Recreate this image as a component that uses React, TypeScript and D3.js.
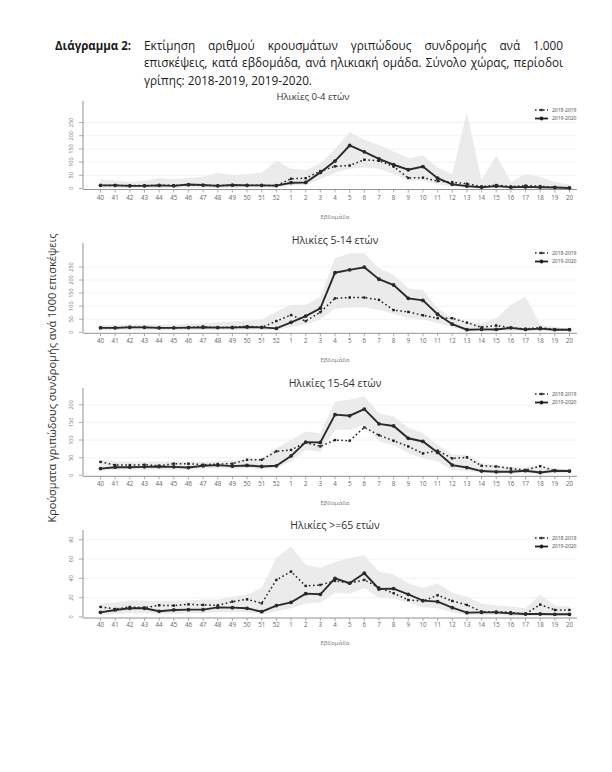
import React, { useEffect, useRef } from "react";
import * as d3 from "d3";

const weeks = ["40","41","42","43","44","45","46","47","48","49","50","51","52","1","2","3","4","5","6","7","8","9","10","11","12","13","14","15","16","17","18","19","20"];
const seasonLabels = ["2018-2019", "2019-2020"];
const panelTitles = ["Ηλικίες 0-4 ετών", "Ηλικίες 5-14 ετών", "Ηλικίες 15-64 ετών", "Ηλικίες >=65 ετών"];
const xAxisLabel = "Εβδομάδα";
const yAxisLabel = "Κρούσματα γριπώδους συνδρομής ανά 1000 επισκέψεις";
const captionLead = "Διάγραμμα 2:";
const captionLines = [
  "Εκτίμηση αριθμού κρουσμάτων γριπώδους συνδρομής ανά 1.000",
  "επισκέψεις, κατά εβδομάδα, ανά ηλικιακή ομάδα. Σύνολο χώρας, περίοδοι",
  "γρίπης: 2018-2019, 2019-2020.",
];

// 0-4
const s19_a = [11,12,11,11,12,12,13,12,11,12,12,12,11,37,39,66,84,87,109,105,83,40,41,28,24,18,7,13,7,11,9,4,2];
const s20_a = [12,12,10,10,12,10,15,13,10,13,12,12,11,22,23,61,104,163,139,112,90,71,83,39,16,9,5,9,5,6,5,4,2];
const up_a = [35,30,25,30,40,35,40,45,60,50,55,60,105,75,70,95,150,215,185,165,140,115,125,80,55,290,30,125,25,55,45,25,15];
const lo_a = [2,2,2,2,2,2,3,3,2,3,3,3,3,10,12,35,60,75,80,75,55,30,30,15,8,3,1,2,1,1,1,0,0];
const ticks_a = [0,50,100,150,200,250];
// 5-14
const s19_b = [17,17,20,19,17,17,18,22,18,20,23,19,43,66,43,77,130,133,133,124,85,78,65,54,54,37,19,26,17,13,18,11,10];
const s20_b = [17,17,19,19,17,17,18,19,18,18,20,19,15,38,62,92,228,239,249,203,181,130,122,69,31,10,11,11,17,11,14,10,10];
const up_b = [28,28,30,30,30,30,32,35,38,41,45,48,79,105,105,136,283,302,302,245,219,168,162,92,54,41,34,54,105,136,28,20,15];
const lo_b = [8,8,8,8,8,8,8,8,8,8,9,9,10,20,30,50,90,95,95,85,70,55,50,35,20,5,5,5,5,5,5,5,5];
const ticks_b = [0,50,100,150,200,250];
// 15-64
const s19_c = [38,29,29,30,27,33,33,30,32,33,44,44,68,72,93,82,100,98,136,114,98,82,62,70,48,51,27,25,19,15,26,13,12];
const s20_c = [19,23,23,24,25,24,22,27,29,26,28,25,27,55,94,93,172,169,188,146,140,105,96,65,29,22,12,10,10,13,8,13,12];
const up_c = [44,39,39,39,39,39,39,39,39,42,48,48,77,100,124,119,209,214,224,176,167,134,119,86,58,58,34,30,25,23,30,20,17];
const lo_c = [14,16,16,16,16,16,16,18,20,18,20,18,20,39,72,67,129,129,143,96,86,63,48,39,15,12,6,5,5,5,4,5,5];
const ticks_c = [0,50,100,150,200];
// >=65
const s19_d = [10.4,8.3,10.4,9.7,12.1,11.8,13.1,12.5,12.1,15.9,18.3,14.2,38.4,47,32.2,33.2,37.4,35,38.4,30.4,24.6,17.6,16.6,22.5,16.6,12.5,5.5,5.5,4.8,3.1,12.8,7.3,7.3];
const s20_d = [4.8,7.3,9,9,5.9,7.3,7.6,7.6,10,9.7,9,5.5,11.8,15.2,24.2,23.5,40,35,45.3,29,29.4,23.5,17,15.9,9.7,4.5,4.8,4.8,3.8,3.1,3.1,2.8,2.8];
const up_d = [14,15,17,17,16,17,17,18,18,21,23,30,61,73,54,51,57,61,64,47,44,35,30,35,25,21,14,12,11,9,23,12,11];
const lo_d = [2,3,4,4,3,3,4,4,5,5,5,3,6,9,14,15,25,24,30,20,19,15,10,9,5,2,2,2,1,1,1,1,1];
const ticks_d = [0,20,40,60,80];

const panelData = [
  { s19: s19_a, s20: s20_a, up: up_a, lo: lo_a, ticks: ticks_a, yMax: 324 },
  { s19: s19_b, s20: s20_b, up: up_b, lo: lo_b, ticks: ticks_b, yMax: 334 },
  { s19: s19_c, s20: s20_c, up: up_c, lo: lo_c, ticks: ticks_c, yMax: 242 },
  { s19: s19_d, s20: s20_d, up: up_d, lo: lo_d, ticks: ticks_d, yMax: 88 },
];

const layouts = [
  { top: 103, y0: 188.5, titleX: 313, titleY: 99.5, titleSize: 9.5, tickY: 200, xlabY: 219, legY: 110 },
  { top: 245, y0: 332.3, titleX: 335, titleY: 243.5, titleSize: 10.5, tickY: 342.5, xlabY: 362, legY: 253 },
  { top: 390, y0: 475.3, titleX: 335, titleY: 386.5, titleSize: 10.5, tickY: 485.5, xlabY: 505, legY: 394 },
  { top: 532, y0: 617, titleX: 335, titleY: 528.5, titleSize: 10.5, tickY: 626.5, xlabY: 645, legY: 538 },
];

const FONT = "'Open Sans', 'Noto Sans', sans-serif";

export default function App() {
  const ref = useRef<SVGSVGElement | null>(null);

  useEffect(() => {
    const svg = d3.select(ref.current);
    svg.selectAll("*").remove();
    svg.append("rect").attr("width", 612).attr("height", 772).attr("fill", "#fff");

    // caption
    const cap = svg.append("g").attr("font-family", FONT).attr("fill", "#1a1a1a");
    cap.append("text").attr("x", 55).attr("y", 49.5).attr("font-size", 13).attr("font-weight", 700)
      .attr("textLength", 76).attr("lengthAdjust", "spacingAndGlyphs").text(captionLead);
    const left = 144, right = 563;
    const lineYs = [49.5, 67, 84.5];

    // choose a font size such that every justified line fits with a minimal word gap
    const fits = (fs: number) => {
      for (let li = 0; li < captionLines.length - 1; li++) {
        const words = captionLines[li].split(" ");
        const t = cap.append("text").attr("font-size", fs);
        let total = 0;
        words.forEach((w) => {
          t.text(w);
          total += (t.node() as SVGTextElement).getComputedTextLength();
        });
        t.remove();
        if (total + 3.6 * (words.length - 1) > right - left) return false;
      }
      return true;
    };
    let fs = 13.5;
    while (fs > 9 && !fits(fs)) fs -= 0.25;

    captionLines.forEach((line, li) => {
      const words = line.split(" ");
      if (li === captionLines.length - 1) {
        cap.append("text").attr("x", left).attr("y", lineYs[li]).attr("font-size", fs).text(line);
        return;
      }
      const nodes = words.map((w) =>
        cap.append("text").attr("y", lineYs[li]).attr("font-size", fs).text(w)
      );
      const widths = nodes.map((n) => (n.node() as SVGTextElement).getComputedTextLength());
      const total = widths.reduce((a, b) => a + b, 0);
      const gap = (right - left - total) / (words.length - 1);
      let cx = left;
      nodes.forEach((n, i) => {
        n.attr("x", cx);
        cx += widths[i] + gap;
      });
    });

    // global y label
    svg.append("text")
      .attr("transform", "translate(56,378) rotate(-90)")
      .attr("text-anchor", "middle").attr("font-family", FONT).attr("font-size", 11)
      .attr("fill", "#333").text(yAxisLabel);

    const x = d3.scalePoint<string>().domain(weeks).range([100.5, 569.5]);

    panelData.forEach((pd, pi) => {
      const L = layouts[pi];
      const y = d3.scaleLinear().domain([0, pd.yMax]).range([L.y0, L.top]);
      const g = svg.append("g");

      // faint gridlines
      pd.ticks.slice(1).forEach((t) => {
        g.append("line").attr("x1", 84).attr("x2", 576).attr("y1", y(t)).attr("y2", y(t))
          .attr("stroke", "#f3f3f3").attr("stroke-width", 1);
      });

      // band
      const idx = d3.range(weeks.length);
      const area = d3.area<number>()
        .x((i) => x(weeks[i]) as number)
        .y0((i) => y(pd.lo[i]))
        .y1((i) => y(pd.up[i]));
      g.append("path").attr("d", area(idx) as string).attr("fill", "#ebebeb");

      // axes
      g.append("line").attr("x1", 83).attr("x2", 83).attr("y1", L.top - 2).attr("y2", L.y0)
        .attr("stroke", "#777").attr("stroke-width", 0.8);
      g.append("line").attr("x1", 83).attr("x2", 577).attr("y1", L.y0 + 1).attr("y2", L.y0 + 1)
        .attr("stroke", "#777").attr("stroke-width", 0.8);
      pd.ticks.forEach((t) => {
        g.append("line").attr("x1", 79).attr("x2", 83).attr("y1", y(t)).attr("y2", y(t))
          .attr("stroke", "#888").attr("stroke-width", 0.7);
        g.append("text").attr("transform", `translate(73,${y(t)}) rotate(-90)`)
          .attr("text-anchor", "middle").attr("font-family", FONT).attr("font-size", 5.5)
          .attr("fill", "#777").text(String(t));
      });
      weeks.forEach((w) => {
        const xx = x(w) as number;
        g.append("line").attr("x1", xx).attr("x2", xx).attr("y1", L.y0 + 1).attr("y2", L.y0 + 4)
          .attr("stroke", "#888").attr("stroke-width", 0.7);
        g.append("text").attr("x", xx).attr("y", L.tickY).attr("text-anchor", "middle")
          .attr("font-family", FONT).attr("font-size", 6.2).attr("fill", "#666").text(w);
      });
      g.append("text").attr("x", 335).attr("y", L.xlabY).attr("text-anchor", "middle")
        .attr("font-family", FONT).attr("font-size", 6).attr("fill", "#777").text(xAxisLabel);
      g.append("text").attr("x", L.titleX).attr("y", L.titleY).attr("text-anchor", "middle")
        .attr("font-family", FONT).attr("font-size", L.titleSize).attr("fill", "#333")
        .text(panelTitles[pi]);

      // lines
      const line = d3.line<number>().x((v, i) => x(weeks[i]) as number).y((v) => y(v));
      g.append("path").attr("d", line(pd.s19) as string).attr("fill", "none")
        .attr("stroke", "#222").attr("stroke-width", 1.5).attr("stroke-dasharray", "1.6,2.6");
      pd.s19.forEach((v, i) => {
        g.append("rect").attr("x", (x(weeks[i]) as number) - 1.2).attr("y", y(v) - 1.2)
          .attr("width", 2.4).attr("height", 2.4).attr("fill", "#222");
      });
      g.append("path").attr("d", line(pd.s20) as string).attr("fill", "none")
        .attr("stroke", "#2a2a2a").attr("stroke-width", 1.9);
      pd.s20.forEach((v, i) => {
        g.append("circle").attr("cx", x(weeks[i]) as number).attr("cy", y(v)).attr("r", 1.9)
          .attr("fill", "#2a2a2a");
      });

      // legend
      const lg = g.append("g").attr("font-family", FONT).attr("font-size", 5).attr("fill", "#444");
      const ly1 = L.legY, ly2 = L.legY + 8.5;
      lg.append("line").attr("x1", 535).attr("x2", 548).attr("y1", ly1).attr("y2", ly1)
        .attr("stroke", "#222").attr("stroke-width", 1.4).attr("stroke-dasharray", "1.6,2.4");
      lg.append("rect").attr("x", 540.3).attr("y", ly1 - 1.2).attr("width", 2.4).attr("height", 2.4).attr("fill", "#222");
      lg.append("text").attr("x", 552).attr("y", ly1 + 1.8).text(seasonLabels[0]);
      lg.append("line").attr("x1", 535).attr("x2", 548).attr("y1", ly2).attr("y2", ly2)
        .attr("stroke", "#222").attr("stroke-width", 1.8);
      lg.append("circle").attr("cx", 541.5).attr("cy", ly2).attr("r", 1.9).attr("fill", "#222");
      lg.append("text").attr("x", 552).attr("y", ly2 + 1.8).text(seasonLabels[1]);
    });
  }, []);

  return (
    <svg
      ref={ref}
      width={612}
      height={772}
      style={{ position: "absolute", left: 0, top: 0, display: "block" }}
    />
  );
}
